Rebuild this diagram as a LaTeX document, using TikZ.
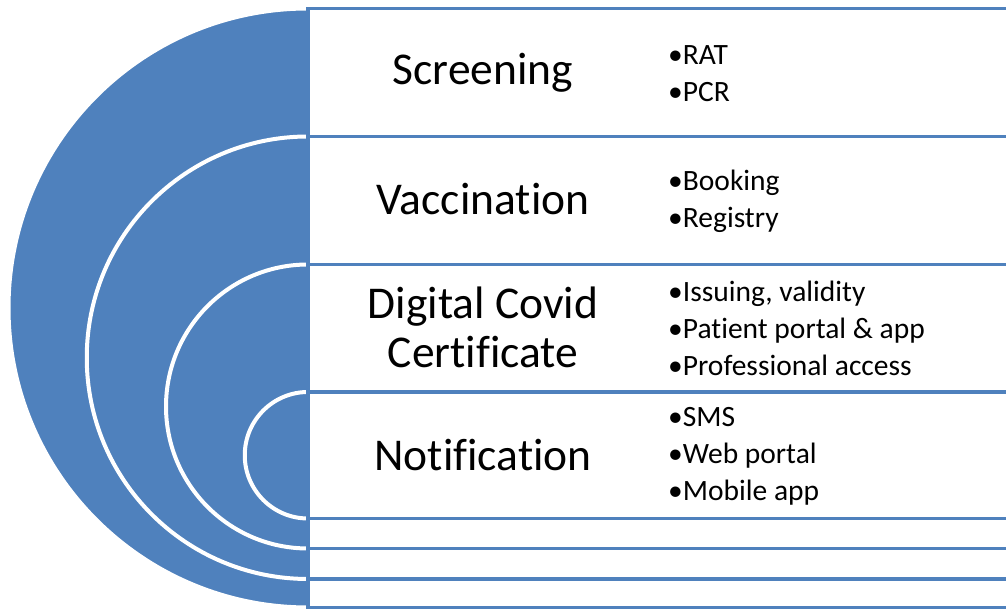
\documentclass[tikz,border=0pt]{standalone}
\usepackage{fontspec}
\setmainfont{Carlito}[Ligatures=NoCommon]
\usepackage{tikz}
\definecolor{ringblue}{HTML}{4F81BD}

\begin{document}
\begin{tikzpicture}[x=1pt,y=1pt,
  rim/.style={draw=ringblue,line width=3.5pt,fill=white},
  title/.style={inner sep=0pt,align=center,font=\fontsize{45.5}{49}\selectfont},
  items/.style={inner sep=0pt,anchor=west,align=left,font=\fontsize{29.5}{37}\selectfont}]
\clip (0,0) rectangle (1006,609);
% half discs, outer to inner
\foreach \t/\b in {600.5/1.5,472.5/30,344.5/60.5,217/90.5}{
  \pgfmathsetmacro{\r}{(\t-\b)/2}
  \fill[ringblue] (308,\t) arc[start angle=90,end angle=270,radius=\r] -- cycle;
  \draw[white,line width=4pt] (308,\t) arc[start angle=90,end angle=270,radius=\r];
}
% bands
\foreach \t/\b in {600.5/1.5,472.5/30,344.5/60.5,217/90.5}
  \draw[rim] (308,\b) rectangle (1014,\t);
\node[title] (screening) at (483,536) {Screening};
\node[title] (vaccination) at (483,410) {Vaccination};
\node[title] (certificate) at (483,282) {Digital Covid\\Certificate};
\node[title] (notification) at (483,154) {Notification};
\node[items] (screenlist) at (668,535.5) {•RAT\\•PCR};
\node[items] (vaccinelist) at (668,408) {•Booking\\•Registry};
\node[items] (certlist) at (668,281) {•Issuing, validity\\•Patient portal \& app\\•Professional access};
\node[items] (notelist) at (668,152.5) {•SMS\\•Web portal\\•Mobile app};
\end{tikzpicture}
\end{document}
